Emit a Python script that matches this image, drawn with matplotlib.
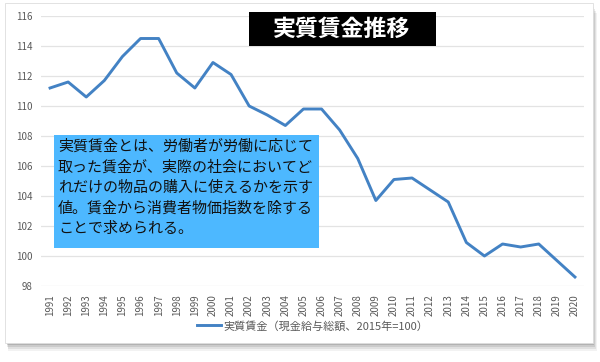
import matplotlib
matplotlib.use('Agg')
import matplotlib.pyplot as plt
from matplotlib.patches import Rectangle

plt.rcParams['font.family'] = ['Noto Sans CJK JP', 'DejaVu Sans']

# Data
years = [str(y) for y in range(1991, 2021)]
real_wage = [111.2, 111.6, 110.6, 111.7, 113.3, 114.5, 114.5, 112.2, 111.2, 112.9,
             112.1, 110.0, 109.4, 108.7, 109.8, 109.8, 108.4, 106.5, 103.7, 105.1,
             105.2, 104.4, 103.6, 100.9, 100.0, 100.8, 100.6, 100.8, 99.7, 98.6]
series_label = '実質賃金（現金給与総額、2015年=100）'
title_text = '実質賃金推移'
note_text = ('実質賃金とは、労働者が労働に応じて\n'
             '取った賃金が、実際の社会においてど\n'
             'れだけの物品の購入に使えるかを示す\n'
             '値。賃金から消費者物価指数を除する\n'
             'ことで求められる。')

W, H = 600, 362
fig = plt.figure(figsize=(W / 100, H / 100), dpi=100)
fig.patch.set_facecolor('white')

# card with drop shadow
for i, a in enumerate([0.05, 0.07, 0.09, 0.12]):
    off = 8 - i * 2
    fig.patches.append(Rectangle(((6 + off * 0.3) / W, 1 - (343 + off) / H), (587 + off * 0.2) / W, 338 / H,
                                 transform=fig.transFigure, facecolor='black', alpha=a,
                                 edgecolor='none', zorder=0))
fig.patches.append(Rectangle((5 / W, 1 - 343 / H), 588 / W, 340 / H, transform=fig.transFigure,
                             facecolor='white', edgecolor='#dddddd', lw=0.6, zorder=1))

ax = fig.add_axes([41 / W, 1 - 286 / H, 543 / W, 270 / H])
ax.set_facecolor('none')
ax.set_zorder(2)

x = list(range(len(years)))
ax.plot(x, real_wage, color='#4382C4', lw=2.1, label=series_label, zorder=3)

ax.set_xlim(-0.5, len(years) - 0.5)
ax.set_ylim(98, 116)
ax.set_yticks(range(98, 117, 2))
ax.set_xticks(x)
ax.set_xticklabels(years, rotation=90)
ax.tick_params(axis='both', length=0, labelsize=7, labelcolor='#595959')
ax.tick_params(axis='x', pad=6)
ax.tick_params(axis='y', pad=6)
ax.grid(axis='y', color='#e3e3e3', lw=0.9)
ax.set_axisbelow(True)
for s in ax.spines.values():
    s.set_visible(False)

ax.legend(loc='center', bbox_to_anchor=(0.5, (1 - 326 / H - (1 - 286 / H)) / (270 / H)),
          frameon=False, fontsize=8, labelcolor='#595959', handlelength=2.2,
          handletextpad=0.2)

# title box
fig.text(342 / W, 1 - 29 / H, title_text, ha='center', va='center', color='white',
         fontsize=16.5, fontweight='bold', zorder=5)
fig.patches.append(Rectangle((249 / W, 1 - 46 / H), 187 / W, 34 / H, transform=fig.transFigure,
                             facecolor='black', edgecolor='none', zorder=4))

# note box
fig.patches.append(Rectangle((54 / W, 1 - 248 / H), 265 / W, 113 / H, transform=fig.transFigure,
                             facecolor='#4DB8FF', edgecolor='none', zorder=4))
fig.text(58 / W, 1 - 139 / H, note_text, ha='left', va='top', color='#111111',
         fontsize=10.8, linespacing=1.58, zorder=5)

fig.savefig('out.png', dpi=100)
